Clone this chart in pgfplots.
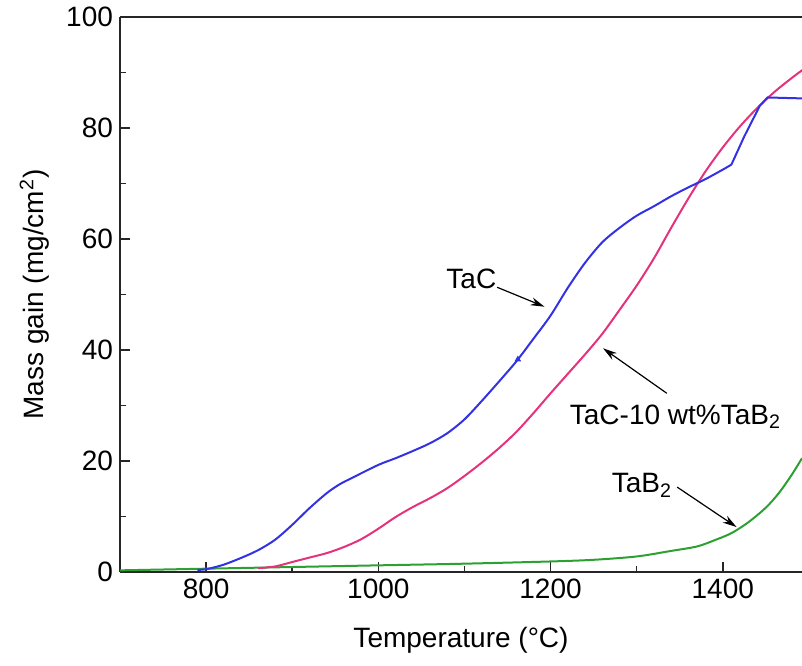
\documentclass[border=0pt]{standalone}
\usepackage{fontspec}
\setmainfont{Liberation Sans}
\usepackage{pgfplots}
\pgfplotsset{compat=1.18}
\usetikzlibrary{calc, arrows.meta}

\definecolor{tacblue}{RGB}{50,50,228}
\definecolor{mixpink}{RGB}{228,50,125}
\definecolor{borgreen}{RGB}{45,160,50}

\begin{document}
\begin{tikzpicture}
\begin{axis}[
    scale only axis,
    width=341pt, height=277.5pt,
    xmin=700, xmax=1492,
    ymin=0, ymax=100,
    axis x line*=box, axis y line*=left,
    xtick pos=bottom, ytick pos=left,
    tick align=inside,
    xtick={800,1000,1200,1400},
    ytick={0,20,...,100},
    minor x tick num=1, minor y tick num=1,
    major tick length=5pt, minor tick length=3pt,
    axis line style={line width=1pt, black!85},
    tick style={line width=0.8pt, black!85},
    tick label style={font=\fontsize{14}{16}\selectfont},
    /pgf/number format/assume math mode=true,
    /pgf/number format/1000 sep={},
    xlabel={Temperature (°C)},
    ylabel={Mass gain (mg/cm\textsuperscript{2})},
    label style={font=\fontsize{14}{16}\selectfont},
    xlabel style={at={(axis description cs:0.5,-0.1225)}, anchor=center},
    ylabel style={at={(axis description cs:-0.125,0.5)}, anchor=center},
]
% TaB2
\addplot[borgreen, line width=1pt, smooth] coordinates {
    (700,0.3) (800,0.6) (900,0.9) (1000,1.2) (1100,1.5) (1200,1.9)
    (1250,2.2) (1300,2.8) (1340,3.8) (1370,4.6) (1390,5.7) (1410,7.0)
    (1430,9.0) (1450,11.6) (1465,14.2) (1480,17.5) (1492,20.5)
};
% TaC-10 wt% TaB2
\addplot[mixpink, line width=1pt, smooth, tension=0.5] coordinates {
    (860,0.7) (880,1.0) (900,1.8) (920,2.6) (940,3.4) (960,4.5) (980,5.9)
    (1000,7.8) (1020,9.9) (1040,11.7) (1060,13.3) (1080,15.1)
    (1100,17.3) (1120,19.7) (1140,22.3) (1160,25.2) (1180,28.6)
    (1200,32.2) (1220,35.7) (1240,39.2) (1260,42.9) (1280,47.2)
    (1300,51.6) (1320,56.5) (1340,62.0) (1360,67.3) (1380,72.2)
    (1400,76.5) (1420,80.3) (1440,83.6) (1460,86.5) (1480,89.0) (1500,91.3)
};
% TaC
\addplot[tacblue, line width=1pt, smooth, tension=0.5] coordinates {
    (790,0.4) (800,0.5) (820,1.3) (840,2.5) (860,3.9) (880,5.8) (900,8.5)
    (920,11.5) (940,14.2) (955,15.8) (970,17.0) (1000,19.3) (1020,20.5)
    (1040,21.8) (1060,23.2) (1080,25.0) (1100,27.5) (1120,30.8)
    (1140,34.3) (1160,37.9) (1180,42.0) (1200,46.2) (1220,51.2)
    (1240,55.7) (1260,59.4) (1280,62.0) (1300,64.2) (1320,65.9)
    (1340,67.7) (1360,69.3) (1380,70.8) (1400,72.5) (1410,73.4)
};
\addplot[tacblue, line width=1pt] coordinates {
    (1410,73.4) (1425,78.5) (1443,84.0) (1452,85.5) (1500,85.3)
};
\addplot[tacblue, only marks, mark=triangle*, mark size=1.5pt] coordinates {(1162,38.3)};

\node[font=\fontsize{14}{16}\selectfont] at (axis cs:1108,52.9) {TaC};
\draw[-{Stealth[length=7pt,width=4pt]}, line width=0.6pt] (axis cs:1138,51.3) -- (axis cs:1193,47.8);
\node[font=\fontsize{14}{16}\selectfont] at (axis cs:1345,28.0) {TaC-10 wt\%TaB\textsubscript{2}};
\draw[-{Stealth[length=7pt,width=4pt]}, line width=0.6pt] (axis cs:1335,32.2) -- (axis cs:1261,40.3);
\node[font=\fontsize{14}{16}\selectfont] at (axis cs:1306,15.6) {TaB\textsubscript{2}};
\draw[-{Stealth[length=7pt,width=4pt]}, line width=0.6pt] (axis cs:1347,15.3) -- (axis cs:1416,8.1);

\coordinate (O) at (rel axis cs:0,0);
\end{axis}
\pgfresetboundingbox
\path[use as bounding box] ($(O)+(-60pt,-46.5pt)$) rectangle ($(O)+(341pt,286pt)$);
\end{tikzpicture}
\end{document}
